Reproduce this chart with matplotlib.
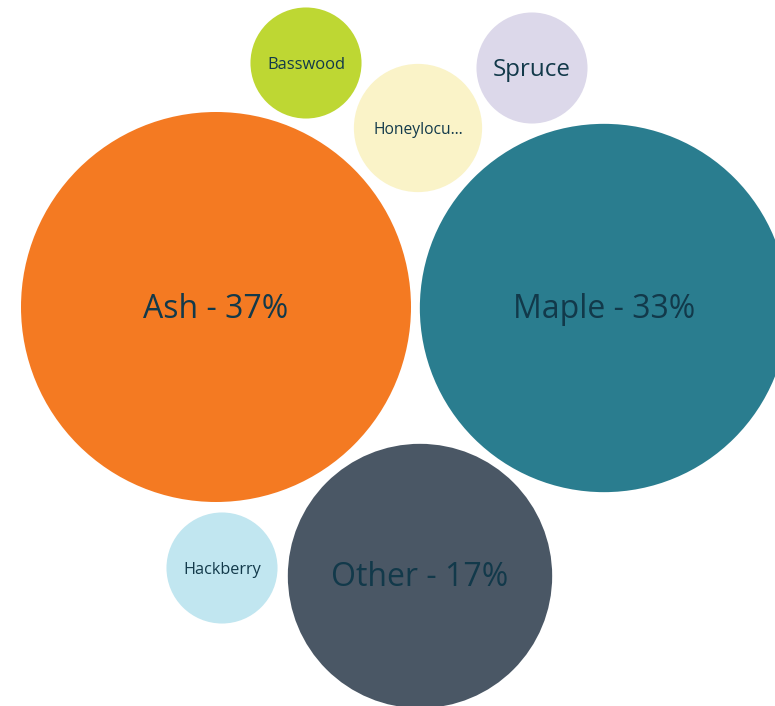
import numpy as np
import matplotlib
matplotlib.use("Agg")
import matplotlib.pyplot as plt
from matplotlib.patches import Circle

plt.rcParams['font.family'] = ['Open Sans', 'DejaVu Sans']

# share of trees by species (percent)
species = ['Ash', 'Maple', 'Other', 'Honeylocust', 'Hackberry', 'Basswood', 'Spruce']
share = [37, 33, 17, 4, 3, 3, 3]

# packed bubble centres, in pixels from the top-left corner
centre_x = [216, 604, 420, 418, 222, 306, 532]
centre_y = [307, 308, 576, 128, 568, 63, 68]
colors = ['#F47A22', '#2A7D8F', '#4A5765', '#FAF3C8', '#C1E6F0', '#BED733', '#DCD8EA']
text_color = '#12394A'

W, H = 775, 706
fig = plt.figure(figsize=(W / 100, H / 100), dpi=100)
ax = fig.add_axes([0, 0, 1, 1])
ax.set_xlim(0, W)
ax.set_ylim(H, 0)
ax.set_aspect('equal')
ax.axis('off')

# bubble area proportional to the share
scale = 195 / np.sqrt(max(share))
radii = [scale * np.sqrt(v) for v in share]

fig.canvas.draw()
renderer = fig.canvas.get_renderer()

for name, v, x, y, r, c in zip(species, share, centre_x, centre_y, radii, colors):
    ax.add_patch(Circle((x, y), r, facecolor=c, edgecolor='none'))
    if r > 100:
        label = f'{name} - {v}%'
    elif len(name) > 9:
        label = name[:9] + '\u2026'
    else:
        label = name
    t = ax.text(x, y + 2, label, ha='center', va='center', color=text_color,
                fontsize=10)
    # fit the label to the bubble width, capped for the large bubbles
    w = t.get_window_extent(renderer).width
    size = min(10 * 1.4 * r / w, 23)
    t.set_fontsize(size)

fig.savefig('out.png', dpi=100)
